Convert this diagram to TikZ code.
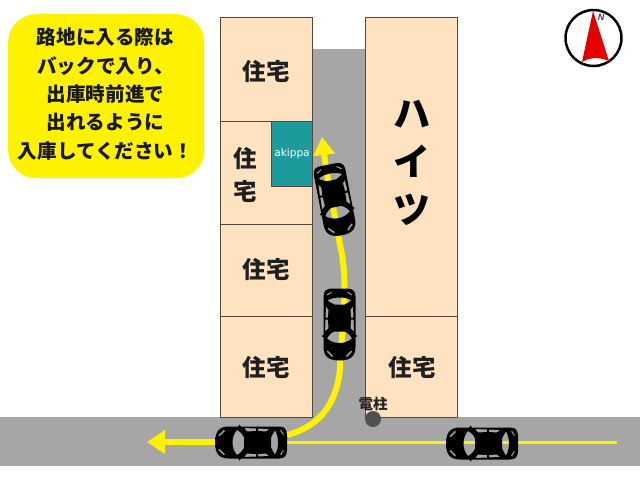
\documentclass[tikz,border=0pt]{standalone}
\usepackage{fontspec}
\setmainfont{Noto Sans CJK JP}
\newfontfamily\latinfont{DejaVu Sans}
\newfontfamily\northfont{Liberation Sans}
\usetikzlibrary{arrows.meta}
\definecolor{housefill}{HTML}{FFE2C0}
\definecolor{houseedge}{HTML}{55473C}
\definecolor{roadgrey}{HTML}{A6A6A6}
\definecolor{tealbox}{HTML}{1D9A9C}
\definecolor{poledark}{HTML}{505050}
\tikzset{
  x=1pt,y=-1pt,
  house/.style={draw=houseedge,line width=1pt,fill=housefill},
  road/.style={fill=roadgrey},
  houselabel/.style={font=\bfseries\fontsize{23.5}{24}\selectfont,text=black!88,inner sep=0pt},
  bigkana/.style={font=\bfseries\fontsize{37}{37}\selectfont,text=black,inner sep=0pt},
  yellowline/.style={draw=yellow,line cap=butt},
  carbody/.style={fill=black,even odd rule},
  pics/car/.style={code={
    \fill[carbody]
      (-36,0) .. controls (-36,-12) and (-31,-16) .. (-22,-16)
      -- (28,-16) .. controls (34,-16) and (36,-13) .. (36,-7)
      -- (36,7) .. controls (36,13) and (34,16) .. (28,16)
      -- (-22,16) .. controls (-31,16) and (-36,12) .. (-36,0) -- cycle
      % windshield
      (-14,-12.5) .. controls (-11,-11) and (-8,-8) .. (-7,-5)
      -- (-7,5) .. controls (-8,8) and (-11,11) .. (-14,12.5)
      .. controls (-20,6) and (-20,-6) .. (-14,-12.5) -- cycle
      % rear window
      (24,-12) .. controls (28,-6) and (28,6) .. (24,12)
      .. controls (23,10) and (21,8) .. (20,5) -- (20,-5)
      .. controls (21,-8) and (23,-10) .. (24,-12) -- cycle
      % side windows
      (-7,-14.5) -- (5,-14) -- (5,-11.5) -- (-4,-11) -- cycle
      (7,-14) -- (18,-13.5) -- (15,-11) -- (7,-11.5) -- cycle
      (-7,14.5) -- (5,14) -- (5,11.5) -- (-4,11) -- cycle
      (7,14) -- (18,13.5) -- (15,11) -- (7,11.5) -- cycle
      % lamps
      (-33,-7) -- (-27,-13) -- (-26,-11.5) -- (-31,-6.5) -- cycle
      (-33,7) -- (-27,13) -- (-26,11.5) -- (-31,6.5) -- cycle
      (30,-13) -- (33,-8) -- (32,-7.5) -- (29,-12) -- cycle
      (30,13) -- (33,8) -- (32,7.5) -- (29,12) -- cycle;
    \fill[black] (-13,-15.5) -- (-11.5,-18) -- (-10,-15.5) -- cycle;
    \fill[black] (-13,15.5) -- (-11.5,18) -- (-10,15.5) -- cycle;
  }}
}
\begin{document}
\begin{tikzpicture}
\useasboundingbox[fill=white] (0,0) rectangle (640,480);
% roads
\fill[road] (312,49) rectangle (365,417);
\fill[road] (0,417) rectangle (640,466);
% houses
\draw[house] (220,17) rectangle (312,121);
\draw[house] (220,121) rectangle (312,224);
\draw[house] (220,224) rectangle (312,316);
\draw[house] (220,316) rectangle (312,417);
\draw[house] (365,17) rectangle (457,316);
\draw[house] (365,316) rectangle (457,417);
\node[houselabel] (h1) at (266,72) {住宅};
\node[houselabel] (h2a) at (245,159) {住};
\node[houselabel] (h2b) at (245,191) {宅};
\node[houselabel] (h3) at (266,270) {住宅};
\node[houselabel] (h4) at (266,368) {住宅};
\node[houselabel] (h5) at (412,368) {住宅};
\node[bigkana] (k1) at (412,114) {ハ};
\node[bigkana] (k2) at (412,161) {イ};
\node[bigkana] (k3) at (412,210) {ツ};
% akippa
\node[fill=tealbox,draw=houseedge,line width=1pt,minimum width=41pt,minimum height=65pt,inner sep=0pt,
      text=white,font=\latinfont\fontsize{10.5}{10.5}\selectfont,anchor=north west] (akippa) at (271,121) {akippa};
% callout
\node[fill=yellow,rounded corners=28pt,minimum width=196pt,minimum height=164pt,inner sep=0pt,
      anchor=north west] (note) at (8,14) {};
\node[inner sep=0pt,align=center,font=\bfseries\fontsize{19.6}{28.4}\selectfont,text=black!90] (notetext) at (105.5,94)
  {路地に入る際は\\バックで入り、\\出庫時前進で\\出れるように\\入庫してください！};
% north mark
\node[circle,draw=black,line width=2.5pt,fill=white,minimum size=56pt,inner sep=0pt] (compass) at (593.5,38) {};
\fill[red!90!black] (593,11) -- (609,61) .. controls (600,57) and (590,57) .. (582,62) -- cycle;
\node[inner sep=0pt,font=\northfont\fontsize{9}{9}\selectfont\bfseries\itshape,text=black!75] (north) at (601,17) {N};
% pole
\node[circle,fill=poledark,minimum size=16pt,inner sep=0pt] (pole) at (373,419) {};
\node[inner sep=0pt,font=\bfseries\fontsize{14.5}{14.5}\selectfont,text=black!85] (polelabel) at (373,404) {電柱};
% route
\coordinate (startR) at (617,442);
\coordinate (carL) at (287,442);
\coordinate (carR) at (215,442);
\coordinate (tipL) at (147,442);
\coordinate (curveA) at (287,435);
\coordinate (tipU) at (322,137);
\draw[yellowline,line width=3pt] (startR) -- (carL);
\draw[yellowline,line width=6pt,-{Triangle[length=18pt,width=23pt]}] (carR) -- (tipL);
\draw[yellowline,line width=6pt,-{Triangle[length=18pt,width=21pt]}]
  (curveA) .. controls (318,427) and (337,405) .. (340,368)
  -- (340,360) .. controls (346,300) and (346,270) .. (340,245)
  .. controls (335,215) and (328,185) .. (tipU);
% cars
\pic at (335,200) [rotate=101] {car};
\pic at (339.5,324.5) [rotate=90] {car};
\pic at (251,442.5) {car};
\pic at (482,443.5) {car};
\end{tikzpicture}
\end{document}
